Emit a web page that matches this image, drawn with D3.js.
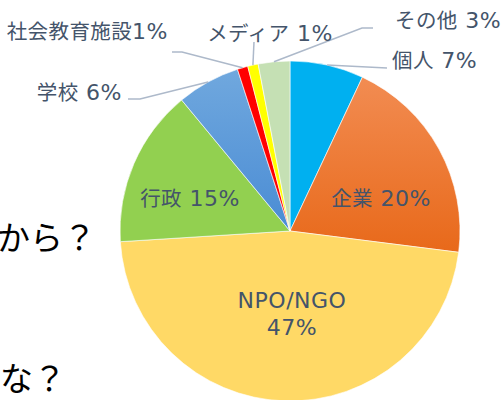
<!DOCTYPE html>
<html><head><meta charset="utf-8">
<script src="https://cdn.jsdelivr.net/npm/d3@7"></script>
<style>body{margin:0;background:#fff;} svg{display:block}</style>
</head><body><svg id="c" width="504" height="400"></svg>
<script>
const categories = ["個人","企業","NPO/NGO","行政","学校","社会教育施設","メディア","その他"];
const values = [7,20,47,15,6,1,1,3];
const labelTexts = [["個人 7%"],["企業 20%"],["NPO/NGO","47%"],["行政 15%"],["学校 6%"],["社会教育施設1%"],["メディア 1%"],["その他 3%"]];
const colorTop = ["#00B0F0","#F28C52","#FFD966","#92D050","#70A8DE","#FF0000","#FFFF00","#C5E0B4"];
const colorBottom = ["#00B0F0","#E8691A","#FFD966","#92D050","#4A8CD4","#FF0000","#FFFF00","#C5E0B4"];

// label layout (offsets from pie center), not data
const layout = [
  {anchor:"start", x:102, y:-163, leader:[[97,-163]]},
  {anchor:"middle", x:91, y:-25},
  {anchor:"middle", x:2, y:77, lh:27},
  {anchor:"middle", x:-100, y:-25},
  {anchor:"end", x:-168, y:-131, leader:[[-150,-132],[-162,-132]]},
  {anchor:"end", x:-122, y:-192, leader:[[-108,-179],[-118,-179]]},
  {anchor:"middle", x:-20, y:-190, leader:[[-36,-189]]},
  {anchor:"start", x:105, y:-203, leader:[[72,-203],[83,-203]]}
];

const svg = d3.select("#c");
const cx = 290, cy = 231, R = 170;

// background slide text fragments
svg.append("text").attr("x",96).attr("y",250).attr("text-anchor","end")
  .attr("font-family","'Noto Sans CJK JP'").attr("font-size",33).attr("fill","#000").text("から？");
svg.append("text").attr("x",66).attr("y",391).attr("text-anchor","end")
  .attr("font-family","'Noto Sans CJK JP'").attr("font-size",33).attr("fill","#000").text("な？");

const defs = svg.append("defs");
categories.forEach((c,i)=>{
  const gr = defs.append("linearGradient").attr("id","g"+i).attr("x1",0).attr("y1",0).attr("x2",0).attr("y2",1);
  gr.append("stop").attr("offset","0%").attr("stop-color",colorTop[i]);
  gr.append("stop").attr("offset","100%").attr("stop-color",colorBottom[i]);
});

const pie = d3.pie().sort(null).value(d=>d);
const arcs = pie(values);
const arc = d3.arc().innerRadius(0).outerRadius(R);
const g = svg.append("g").attr("transform",`translate(${cx},${cy})`);

g.selectAll("path.s").data(arcs).join("path").attr("class","s")
  .attr("d",arc).attr("fill",(d,i)=>`url(#g${i})`)
  .attr("stroke","#fff").attr("stroke-width",0.6);

// leader lines
arcs.forEach((d,i)=>{
  const L = layout[i];
  if(!L.leader) return;
  const a = (d.startAngle+d.endAngle)/2;
  const p0 = [R*Math.sin(a), -R*Math.cos(a)];
  g.append("path").attr("d", d3.line()([p0, ...L.leader])).attr("fill","none")
    .attr("stroke","#ADB9CA").attr("stroke-width",1.5);
});

// labels: CJK and Latin runs styled separately
const cjkRe = /([\u3000-\u30ff\u3400-\u9fff\uff00-\uffef]+)/;
arcs.forEach((d,i)=>{
  const L = layout[i];
  const t = g.append("text").attr("text-anchor",L.anchor).attr("fill","#44546A");
  labelTexts[i].forEach((s,k)=>{
    const parts = s.split(cjkRe).filter(p=>p.length);
    parts.forEach((p,j)=>{
      const isCjk = cjkRe.test(p);
      const ts = t.append("tspan").text(p)
        .attr("font-family", isCjk ? "'Noto Sans CJK JP'" : "'DejaVu Sans','Noto Sans CJK JP'")
        .attr("font-size", isCjk ? 20.5 : 22)
        .attr("letter-spacing", isCjk ? 0.4 : 0.5);
      if(j===0) ts.attr("x",L.x).attr("y",L.y + k*(L.lh||0));
    });
  });
});
</script></body></html>
